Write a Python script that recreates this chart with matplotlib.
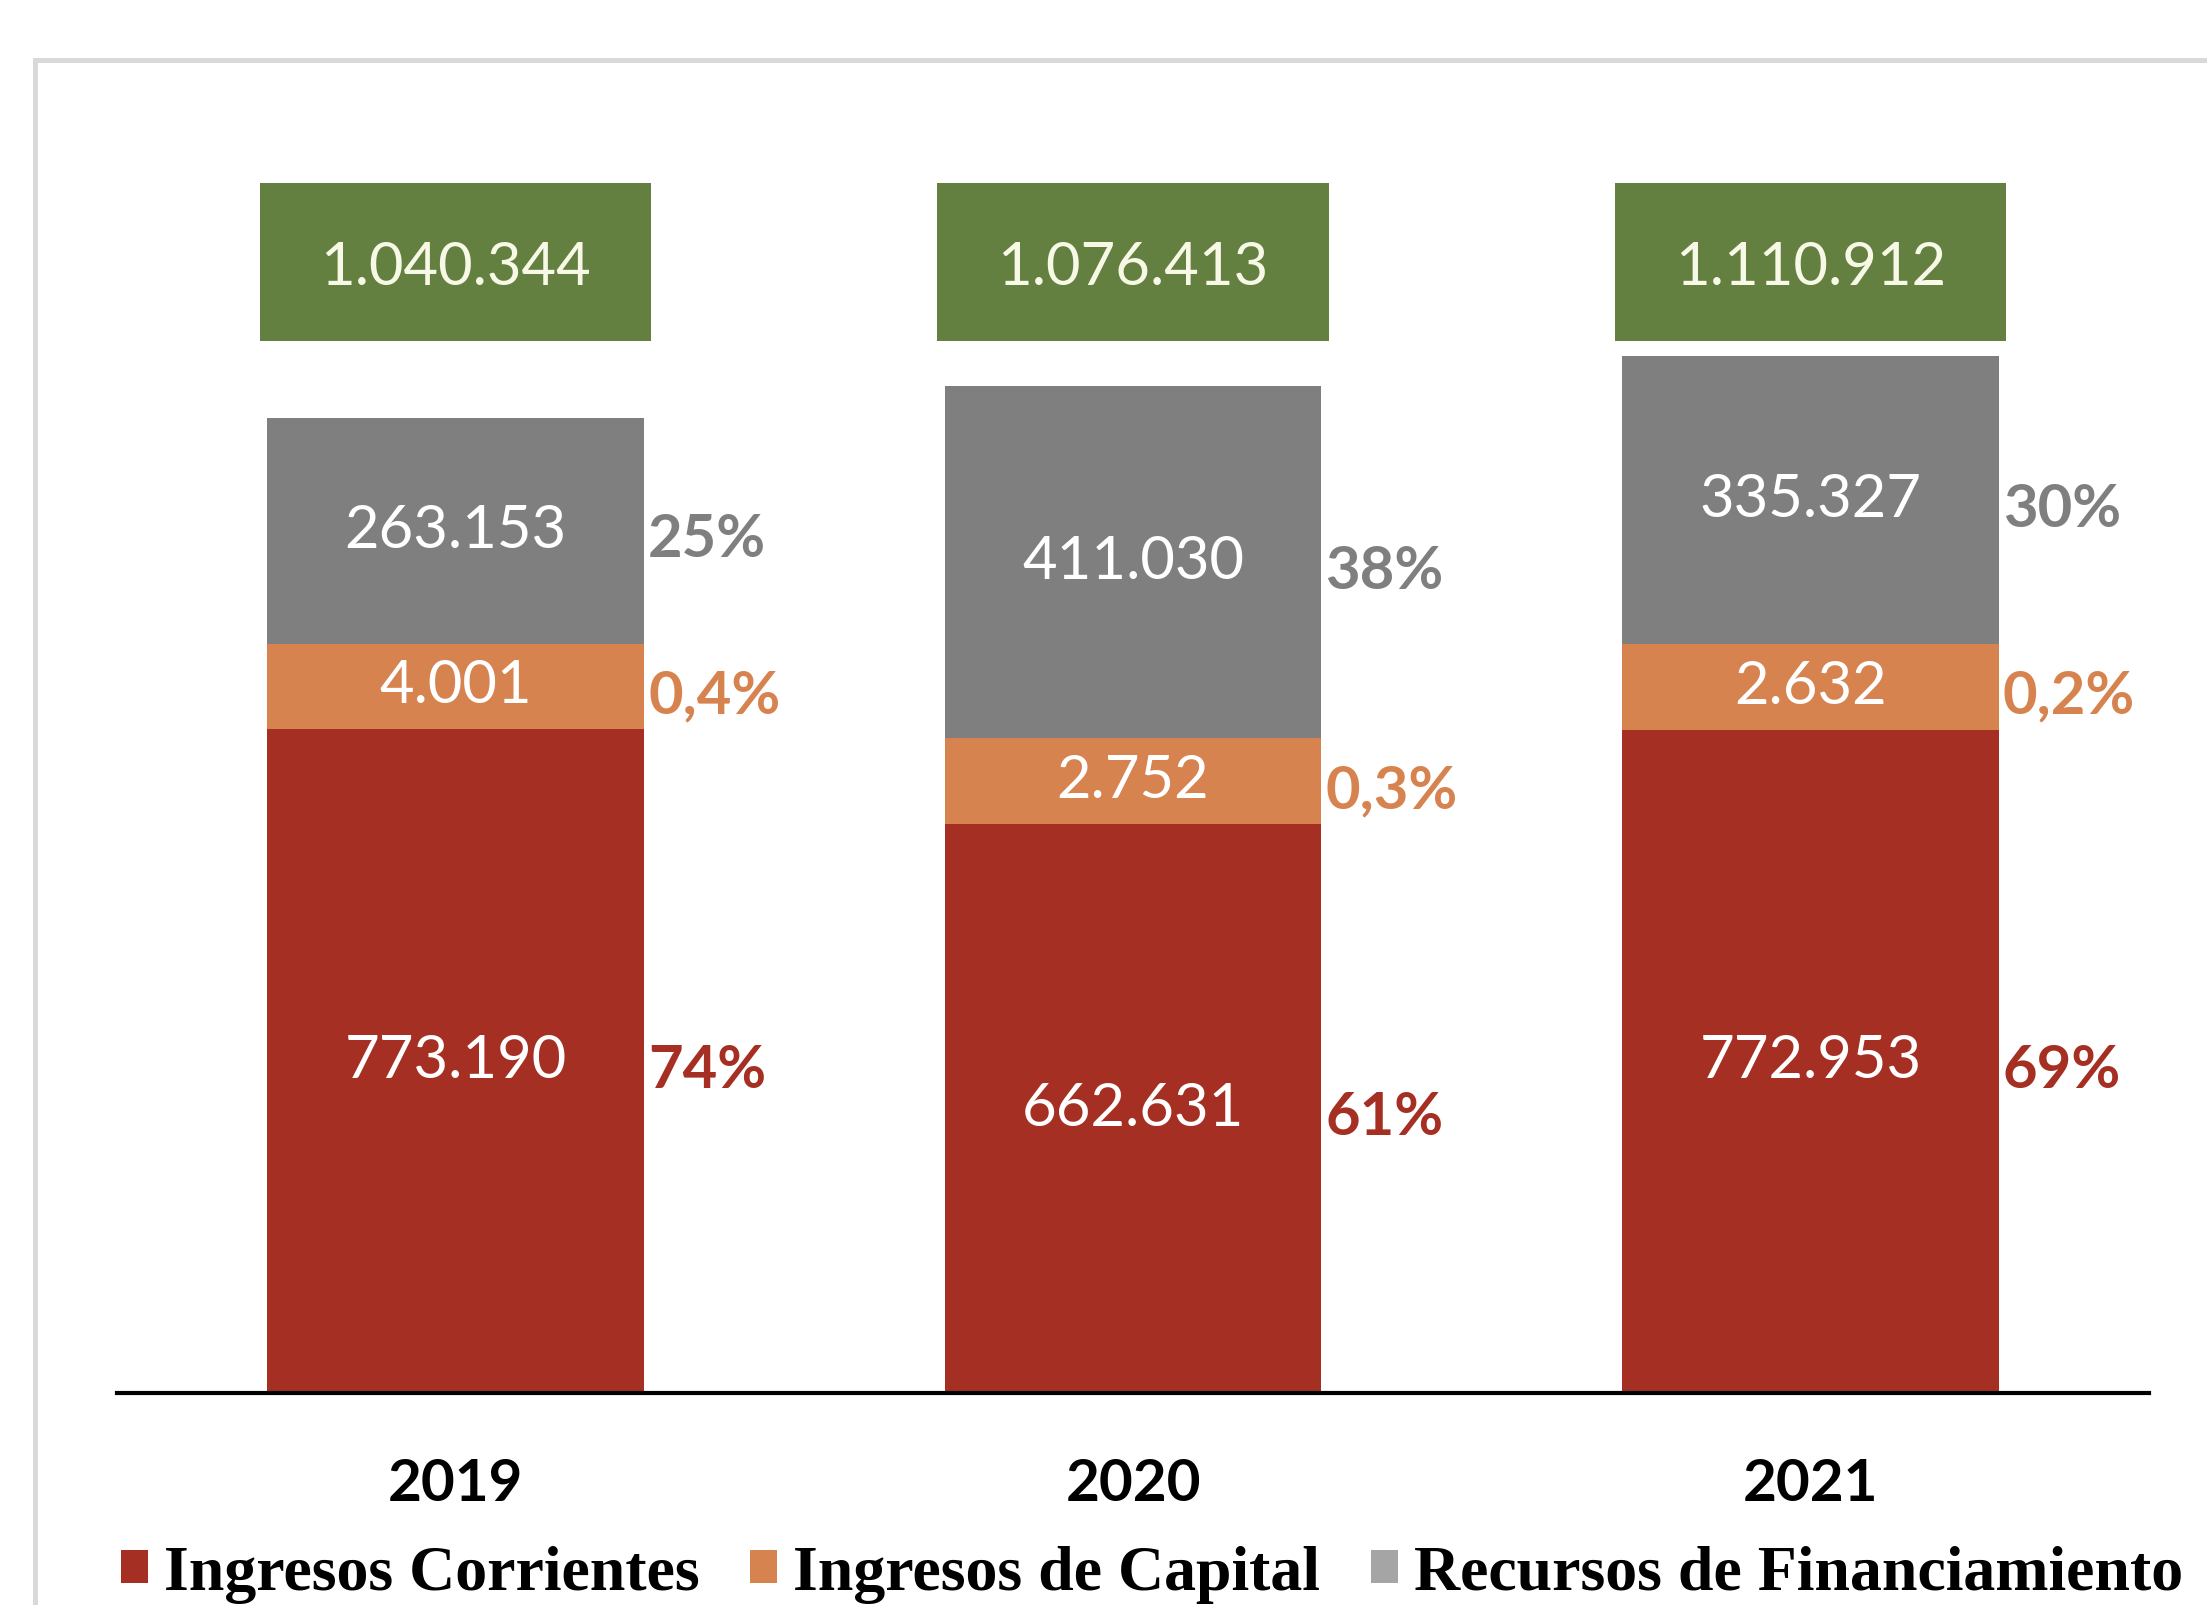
import matplotlib
matplotlib.use("Agg")
import matplotlib.pyplot as plt
from matplotlib.patches import Rectangle, Patch
from matplotlib.transforms import blended_transform_factory

# ---------------- data ----------------
years = ["2019", "2020", "2021"]
corrientes = [773190, 662631, 772953]
capital = [4001, 2752, 2632]
financiamiento = [263153, 411030, 335327]
totales = [1040344, 1076413, 1110912]
pct_corrientes = ["74%", "61%", "69%"]
pct_capital = ["0,4%", "0,3%", "0,2%"]
pct_financiamiento = ["25%", "38%", "30%"]
series_names = ["Ingresos Corrientes", "Ingresos de Capital", "Recursos de Financiamiento"]

# ---------------- style ----------------
C_RED = "#A52F22"
C_ORANGE = "#D6834F"
C_GRAY = "#7F7F7F"
C_GRAY_LEG = "#A5A5A5"
C_GREEN = "#638041"
MIN_VISIBLE = 100000  # small segments are drawn with a minimum visible height (as in the original)

def fmt(v):
    return f"{v:,}".replace(",", ".")

W, H, DPI = 2207, 1605, 100
fig = plt.figure(figsize=(W / DPI, H / DPI), dpi=DPI)
fig.patch.set_facecolor("white")

# outer light-gray frame (extends beyond the cropped picture)
fig.add_artist(Rectangle((35 / W, -0.2), 2.0, (H - 60) / H + 0.2, transform=fig.transFigure,
                         fill=False, edgecolor="#D9D9D9", linewidth=3.6, zorder=0))

ax = fig.add_axes([117 / W, 212 / H, 2032 / W, 1293 / H])
ax.set_facecolor("none")

x = list(range(len(years)))
bw = 0.556
cap_draw = [max(v, MIN_VISIBLE) for v in capital]
bottom_fin = [a + b for a, b in zip(corrientes, cap_draw)]

b1 = ax.bar(x, corrientes, width=bw, color=C_RED, zorder=2)
b2 = ax.bar(x, cap_draw, width=bw, bottom=corrientes, color=C_ORANGE, zorder=2)
b3 = ax.bar(x, financiamiento, width=bw, bottom=bottom_fin, color=C_GRAY, zorder=2)

ax.set_xlim(-0.5, 2.5)
ax.set_ylim(0, 1.5065e6)

val_font = dict(family=["Lato", "DejaVu Sans"], fontsize=43, color="white")
pct_font = dict(family=["Lato", "DejaVu Sans"], fontsize=43, fontweight="bold")

for i in x:
    segs = [
        (corrientes[i], 0, corrientes[i], pct_corrientes[i], C_RED),
        (capital[i], corrientes[i], cap_draw[i], pct_capital[i], C_ORANGE),
        (financiamiento[i], bottom_fin[i], financiamiento[i], pct_financiamiento[i], C_GRAY),
    ]
    for val, bot, h, pct, col in segs:
        yc = bot + h / 2
        ax.text(i, yc, fmt(val), ha="center", va="center", zorder=4, **val_font)
        ax.annotate(pct, xy=(i + bw / 2, yc), xytext=(3, -7), textcoords="offset points",
                    ha="left", va="center", color=col, zorder=4, **pct_font)

# total boxes (green)
trans = blended_transform_factory(ax.transData, ax.transAxes)
box_w = 0.578
box_h = 158 / 1293
box_cy = (1393 - 262) / 1293
for i in x:
    ax.add_patch(Rectangle((i - box_w / 2, box_cy - box_h / 2), box_w, box_h, transform=trans,
                           facecolor=C_GREEN, edgecolor="none", zorder=3, clip_on=False))
    ax.annotate(fmt(totales[i]), xy=(i, box_cy), xycoords=trans, xytext=(0, -4),
                textcoords="offset points", ha="center", va="center",
                family=["Lato", "DejaVu Sans"], fontsize=43, color="#F7F9E6", zorder=4)

# axes styling
for s in ["left", "right", "top"]:
    ax.spines[s].set_visible(False)
ax.spines["bottom"].set_linewidth(3)
ax.spines["bottom"].set_color("black")
ax.set_yticks([])
ax.set_xticks(x)
ax.set_xticklabels(years, family=["Lato", "DejaVu Sans"], fontsize=42, fontweight="bold")
ax.tick_params(axis="x", length=0, pad=47)

handles = [Patch(facecolor=C_RED), Patch(facecolor=C_ORANGE), Patch(facecolor=C_GRAY_LEG)]
leg = fig.legend(handles=handles, labels=series_names, loc="center",
                 bbox_to_anchor=(0.522, 0.019), ncol=3, frameon=False,
                 prop=dict(family=["Liberation Serif"], weight="bold", size=46),
                 handlelength=0.42, handleheight=0.42, handletextpad=0.25, columnspacing=0.8,
                 borderaxespad=0, borderpad=0)

fig.savefig("out.png", dpi=DPI, facecolor="white")
